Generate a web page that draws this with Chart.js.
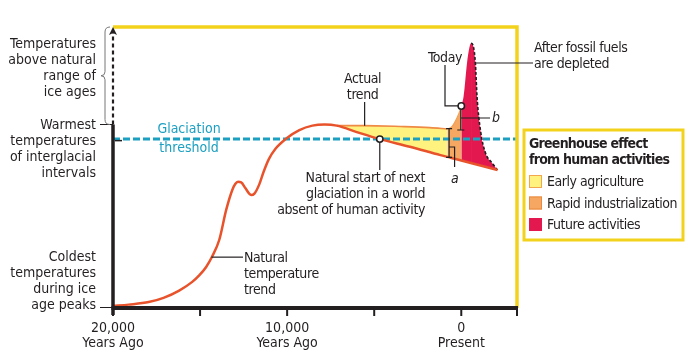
<!DOCTYPE html>
<html>
<head>
<meta charset="utf-8">
<script src="https://cdn.jsdelivr.net/npm/chart.js@4.4.0/dist/chart.umd.min.js"></script>
<style>
  html, body { margin: 0; padding: 0; background: #fff; }
  #wrap { width: 696px; height: 358px; }
</style>
</head>
<body>
<div id="wrap"><canvas id="climateChart" width="696" height="358"></canvas></div>
<script>
// --- DATA ---
// x: years relative to present (negative = years ago)
// y: relative temperature (0 = coldest ice-age level, 100 = top of frame)
const naturalYears = [-20000, -19100, -17950, -17100, -16200, -15450, -15050, -14650, -14300, -13900, -13500, -13150, -12980, -12820, -12640, -12400, -12180, -12060, -11880, -11600, -11350, -11050, -10680, -10050, -9300, -8550, -7850, -7150, -6000, -4680, -2950, -1200, 0, 1100, 2080];
const naturalTemp  = [0.7, 1.2, 2.1, 3.6, 6.2, 9.3, 11.6, 14.6, 18.4, 24.2, 34.9, 42.0, 44.1, 44.9, 44.7, 42.7, 40.7, 40.2, 40.7, 44.0, 48.5, 53.0, 56.6, 60.3, 63.3, 64.9, 65.3, 64.9, 62.6, 60.1, 57.4, 54.4, 52.5, 50.7, 49.1];

// actual trend with early agriculture (yellow)
const agricultureYears = [-7150, -5650, -3500, -1800, -800];
const agricultureTemp  = [64.9, 64.9, 64.6, 64.2, 63.7];

// rapid industrialization (orange), ends "Today"
const industryYears = [-800, -540, -250, -60, 0];
const industryTemp  = [63.7, 64.5, 67.6, 70.5, 71.9];

// future activities until fossil fuels are depleted (red)
const futureYears = [0, 130, 330, 460, 560, 690, 810, 905, 1100, 1390, 1770, 2080];
const futureTemp  = [71.9, 75.2, 87.2, 92.5, 94.2, 93.2, 87.2, 75.2, 63.3, 55.2, 51.6, 49.1];

const thresholdLevel = 60.1;   // glaciation threshold
const warmestLevel = 65.3;     // warmest interglacial temperature
const coldestLevel = 0.7;      // coldest ice age temperature
const glaciationStart = -4680; // natural start of next glaciation
const xMin = -20000, xMax = 3200;
const xTicks = [-20000, -15000, -10000, -5000, 0, 3200];
const xTickLabels = { '-20000': ['20,000', 'Years Ago'], '-10000': ['10,000', 'Years Ago'], '0': ['0', 'Present'] };

const legendItems = [
  { label: 'Early agriculture', fill: '#fff27e', stroke: '#f2a64e' },
  { label: 'Rapid industrialization', fill: '#f6a862', stroke: '#e98a3e' },
  { label: 'Future activities', fill: '#e3184f', stroke: '#e3184f' }
];

// --- COLORS / FONTS ---
const FONT = '"DejaVu Sans Condensed", "Liberation Sans Narrow", sans-serif';
const INK = '#231f20';
const CURVE = '#e8532b';
const CYAN = '#1ca0c2';
const FRAME = '#f3d21c';

const toPoints = (xs, ys) => xs.map((x, i) => ({ x: x, y: ys[i] }));

function lines(ctx, arr, x, y0, step, align) {
  ctx.textAlign = align;
  arr.forEach((t, i) => ctx.fillText(t, x, y0 + i * step));
}

const decorPlugin = {
  id: 'decor',
  afterDatasetsDraw(chart) {
    const ctx = chart.ctx;
    const { left, right, top, bottom } = chart.chartArea;
    const sx = chart.scales.x, sy = chart.scales.y;
    const X = v => sx.getPixelForValue(v);
    const Y = v => sy.getPixelForValue(v);
    const spacing = s => { if ('letterSpacing' in ctx) ctx.letterSpacing = s; };
    ctx.save();

    // yellow frame (top + right)
    ctx.strokeStyle = FRAME;
    ctx.lineWidth = 3.5;
    ctx.beginPath();
    ctx.moveTo(left, top);
    ctx.lineTo(right, top);
    ctx.lineTo(right, bottom);
    ctx.stroke();

    // y axis: dashed above warmest level, solid below
    ctx.strokeStyle = INK;
    ctx.lineWidth = 2.2;
    ctx.setLineDash([4, 3]);
    ctx.beginPath();
    ctx.moveTo(left, Y(warmestLevel));
    ctx.lineTo(left, top + 6);
    ctx.stroke();
    ctx.setLineDash([]);
    ctx.fillStyle = INK;
    ctx.beginPath();
    ctx.moveTo(left, top);
    ctx.lineTo(left - 4, top + 8);
    ctx.lineTo(left, top + 6);
    ctx.lineTo(left + 4, top + 8);
    ctx.closePath();
    ctx.fill();

    ctx.lineWidth = 3.5;
    ctx.beginPath();
    ctx.moveTo(left, Y(warmestLevel));
    ctx.lineTo(left, bottom + 7);
    ctx.stroke();

    // x axis + ticks
    ctx.lineWidth = 4;
    ctx.beginPath();
    ctx.moveTo(left - 1.5, bottom);
    ctx.lineTo(right + 1, bottom);
    ctx.stroke();
    ctx.lineWidth = 2;
    xTicks.forEach(t => {
      ctx.beginPath();
      ctx.moveTo(X(t), bottom);
      ctx.lineTo(X(t), bottom + 8);
      ctx.stroke();
    });
    ctx.fillStyle = INK;
    ctx.font = '14px ' + FONT;
    Object.keys(xTickLabels).forEach(k => {
      lines(ctx, xTickLabels[k], X(+k), bottom + 24, 15, 'center');
    });

    // left side labels
    lines(ctx, ['Temperatures', 'above natural', 'range of', 'ice ages'], 96, 48, 16, 'right');
    lines(ctx, ['Warmest', 'temperatures', 'of interglacial', 'intervals'], 96, Y(warmestLevel) + 4.5, 16, 'right');
    lines(ctx, ['Coldest', 'temperatures', 'during ice', 'age peaks'], 96, Y(coldestLevel) - 45, 16, 'right');

    ctx.strokeStyle = INK;
    ctx.lineWidth = 1.2;
    ctx.beginPath();
    ctx.moveTo(100, Y(warmestLevel)); ctx.lineTo(left, Y(warmestLevel));
    ctx.moveTo(100, bottom - 0.5); ctx.lineTo(left, bottom - 0.5);
    ctx.stroke();
    ctx.lineWidth = 1.5;
    ctx.beginPath();
    ctx.moveTo(left + 2, Y(thresholdLevel) + 1.5); ctx.lineTo(left + 9, Y(thresholdLevel) + 1.5);
    ctx.stroke();

    // brace for "above natural range"
    const bt = top, bb = Y(warmestLevel), bm = (bt + bb) / 2;
    ctx.strokeStyle = '#777';
    ctx.lineWidth = 1;
    ctx.beginPath();
    ctx.moveTo(110, bt);
    ctx.quadraticCurveTo(105, bt, 105, bt + 5);
    ctx.lineTo(105, bm - 4);
    ctx.quadraticCurveTo(105, bm, 101, bm);
    ctx.quadraticCurveTo(105, bm, 105, bm + 4);
    ctx.lineTo(105, bb - 5);
    ctx.quadraticCurveTo(105, bb, 110, bb);
    ctx.stroke();

    // glaciation threshold label
    ctx.fillStyle = CYAN;
    lines(ctx, ['Glaciation', 'threshold'], 189, Y(thresholdLevel) - 6, 19, 'center');

    ctx.fillStyle = INK;
    ctx.strokeStyle = INK;
    ctx.lineWidth = 1.2;
    spacing('-0.4px');

    // Natural temperature trend
    const ntX = X(-14350), ntY = Y(18.1);
    ctx.beginPath(); ctx.moveTo(ntX, ntY); ctx.lineTo(243, ntY); ctx.stroke();
    lines(ctx, ['Natural', 'temperature', 'trend'], 244, ntY + 5, 16, 'left');

    // Actual trend
    const atX = X(-5550);
    ctx.beginPath(); ctx.moveTo(atX, 102); ctx.lineTo(atX, Y(64.9)); ctx.stroke();
    lines(ctx, ['Actual', 'trend'], atX - 2, 83, 16, 'center');

    // Natural start of next glaciation
    const gx = X(glaciationStart), gy = Y(thresholdLevel);
    ctx.beginPath(); ctx.moveTo(gx, gy); ctx.lineTo(gx, 170); ctx.stroke();
    lines(ctx, ['Natural start of next', 'glaciation in a world', 'absent of human activity'], 425, 182, 16, 'right');

    // Today
    const tx = X(0), ty = Y(industryTemp[industryTemp.length - 1]);
    ctx.beginPath();
    ctx.moveTo(445, 65); ctx.lineTo(445, ty); ctx.lineTo(tx, ty);
    ctx.stroke();
    ctx.textAlign = 'center';
    ctx.fillText('Today', 445, 62);

    // bracket b
    ctx.beginPath();
    ctx.moveTo(tx - 0.5, ty + 4); ctx.lineTo(tx - 0.5, Y(63.7) + 1);
    ctx.moveTo(tx - 4, Y(63.7) + 1); ctx.lineTo(tx + 3, Y(63.7) + 1);
    ctx.moveTo(tx, 118); ctx.lineTo(490, 118);
    ctx.stroke();
    ctx.font = 'italic 14px ' + FONT;
    ctx.textAlign = 'left';
    ctx.fillText('b', 492, 122);

    // bracket a
    const ax = X(-700), aTop = Y(63.8), aBot = Y(53.6);
    ctx.beginPath();
    ctx.moveTo(ax, aTop); ctx.lineTo(ax, aBot);
    ctx.moveTo(ax - 3, aTop); ctx.lineTo(ax + 3, aTop);
    ctx.moveTo(ax - 3, aBot); ctx.lineTo(ax + 3, aBot);
    ctx.moveTo(ax, 147); ctx.lineTo(ax + 5.5, 147); ctx.lineTo(ax + 5.5, 167);
    ctx.stroke();
    ctx.textAlign = 'center';
    ctx.fillText('a', ax + 5.5, 183);

    // After fossil fuels are depleted
    ctx.font = '14px ' + FONT;
    ctx.beginPath(); ctx.moveTo(X(820), 63); ctx.lineTo(533, 63); ctx.stroke();
    lines(ctx, ['After fossil fuels', 'are depleted'], 534, 52, 16, 'left');

    // circles
    [[gx, gy], [tx, ty]].forEach(p => {
      ctx.beginPath();
      ctx.arc(p[0], p[1], 3.2, 0, Math.PI * 2);
      ctx.fillStyle = '#fff';
      ctx.fill();
      ctx.lineWidth = 1.5;
      ctx.strokeStyle = INK;
      ctx.stroke();
    });

    // legend box
    ctx.strokeStyle = FRAME;
    ctx.lineWidth = 3;
    ctx.strokeRect(524, 130, 159, 110);
    ctx.fillStyle = INK;
    ctx.font = 'bold 14px ' + FONT;
    spacing('-0.75px');
    lines(ctx, ['Greenhouse effect', 'from human activities'], 529, 148, 16, 'left');
    ctx.font = '14px ' + FONT;
    spacing('-0.45px');
    legendItems.forEach((it, i) => {
      const y = 175 + i * 21.5;
      ctx.fillStyle = it.fill;
      ctx.fillRect(529, y, 13, 13);
      ctx.strokeStyle = it.stroke;
      ctx.lineWidth = 1;
      ctx.strokeRect(529.5, y + 0.5, 12, 12);
      ctx.fillStyle = INK;
      ctx.textAlign = 'left';
      ctx.fillText(it.label, 547, y + 11);
    });

    ctx.restore();
  }
};

const peakYear = futureYears[futureTemp.indexOf(Math.max(...futureTemp))];

new Chart(document.getElementById('climateChart'), {
  type: 'line',
  data: {
    datasets: [
      { // 0: natural temperature trend
        data: toPoints(naturalYears, naturalTemp),
        borderColor: CURVE, borderWidth: 2.5, fill: false
      },
      { // 1: glaciation threshold
        data: [{ x: xMin, y: thresholdLevel }, { x: xMax, y: thresholdLevel }],
        borderColor: CYAN, borderWidth: 3, borderDash: [7, 3], fill: false,
        cubicInterpolationMode: 'default', tension: 0
      },
      { // 2: early agriculture
        data: toPoints(agricultureYears, agricultureTemp),
        borderColor: '#ef8a45', borderWidth: 1.6,
        backgroundColor: '#fff27e', fill: { target: 0 }
      },
      { // 3: rapid industrialization
        data: toPoints(industryYears, industryTemp),
        borderColor: '#f0a055', borderWidth: 1.2,
        backgroundColor: '#f6a862', fill: { target: 0 }
      },
      { // 4: future activities
        data: toPoints(futureYears, futureTemp),
        borderColor: 'rgba(0,0,0,0)', borderWidth: 1.6,
        backgroundColor: '#e3184f', fill: { target: 0 },
        segment: {
          borderColor: c => c.p0.parsed.x >= peakYear ? '#231f20' : 'rgba(0,0,0,0)',
          borderDash: c => c.p0.parsed.x >= peakYear ? [3, 2] : undefined
        }
      }
    ]
  },
  options: {
    responsive: false,
    animation: false,
    layout: { padding: { left: 113, top: 27, right: 179, bottom: 50 } },
    elements: {
      point: { radius: 0, hoverRadius: 0 },
      line: { cubicInterpolationMode: 'monotone' }
    },
    scales: {
      x: { type: 'linear', min: xMin, max: xMax, display: false },
      y: { min: 0, max: 100, display: false }
    },
    plugins: {
      legend: { display: false },
      tooltip: { enabled: false },
      filler: { propagate: false }
    }
  },
  plugins: [decorPlugin]
});
</script>
</body>
</html>
